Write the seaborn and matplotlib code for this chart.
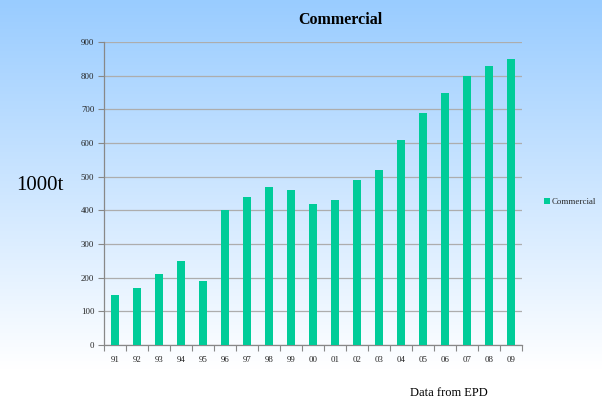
import numpy as np
import pandas as pd
import matplotlib
matplotlib.use("Agg")
import matplotlib.pyplot as plt
import seaborn as sns
from matplotlib.patches import Patch

# Commercial waste tonnage by year (thousand tonnes)
years = ["91", "92", "93", "94", "95", "96", "97", "98", "99", "00",
         "01", "02", "03", "04", "05", "06", "07", "08", "09"]
commercial = [150, 170, 210, 250, 190, 400, 440, 470, 460, 420,
              430, 490, 520, 610, 690, 750, 800, 830, 850]
series_name = "Commercial"
y_ticks = [0, 100, 200, 300, 400, 500, 600, 700, 800, 900]

df = pd.DataFrame({"year": years, "value": commercial, "series": series_name})

sns.set_theme(style="white")
plt.rcParams["font.family"] = ["Liberation Serif", "DejaVu Serif"]

fig = plt.figure(figsize=(6.02, 4.01), dpi=100)

# Sky-blue to white vertical gradient behind everything
bg = fig.add_axes([0, 0, 1, 1], zorder=-10)
top = np.array([153, 204, 255]) / 255
bot = np.array([255, 255, 255]) / 255
t = np.clip(np.linspace(0, 1, 400) / 0.92, 0, 1)[:, None]
grad = (top * (1 - t) + bot * t)[:, None, :]
bg.imshow(grad, aspect="auto", extent=[0, 1, 0, 1])
bg.set_axis_off()

ax = fig.add_axes([104 / 602, 1 - 345 / 401, (522 - 104) / 602, (345 - 42) / 401])
ax.patch.set_alpha(0)

bar_color = "#00CC99"
sns.barplot(data=df, x="year", y="value", hue="series", palette=[bar_color],
            saturation=1, width=0.4, linewidth=0, ax=ax, legend=False, zorder=3)

ax.set_ylim(0, 900)
ax.set_xlim(-0.5, len(years) - 0.5)
ax.set_yticks(y_ticks)
ax.yaxis.grid(True, color="#ADADAD", linewidth=0.9)
ax.set_axisbelow(True)
ax.set_xlabel("")
ax.set_ylabel("")

for side in ["top", "right"]:
    ax.spines[side].set_visible(False)
for side in ["left", "bottom"]:
    ax.spines[side].set_color("#888888")
    ax.spines[side].set_linewidth(0.9)

# Category labels under bars, tick marks on category boundaries
ax.set_xticks(range(len(years)))
ax.set_xticklabels(years)
ax.set_xticks(np.arange(-0.5, len(years), 1), minor=True)
ax.tick_params(axis="x", which="major", length=0, labelsize=6.3, pad=8, colors="#222222")
ax.tick_params(axis="x", which="minor", length=4, width=0.8, color="#888888", direction="out", bottom=True)
ax.tick_params(axis="y", which="major", length=4, width=0.8, color="#888888", direction="out",
               left=True, labelsize=6.3, pad=3, labelcolor="#222222")

fig.text(340 / 602, 1 - 20 / 401, "Commercial", ha="center", va="center",
         fontsize=11.5, fontweight="bold", color="black")
fig.text(40 / 602, 1 - 186 / 401, "1000t", ha="center", va="center",
         fontsize=15, color="black")
fig.text(449 / 602, 1 - 393 / 401, "Data from EPD", ha="center", va="center",
         fontsize=9, color="black")

handle = Patch(facecolor=bar_color, edgecolor="none", label=series_name)
fig.legend(handles=[handle], loc="center left", bbox_to_anchor=(540 / 602, 1 - 202 / 401),
           frameon=False, fontsize=6.4, handlelength=0.7, handleheight=0.7,
           handletextpad=0.2, borderaxespad=0)

fig.savefig("out.png", dpi=100)
